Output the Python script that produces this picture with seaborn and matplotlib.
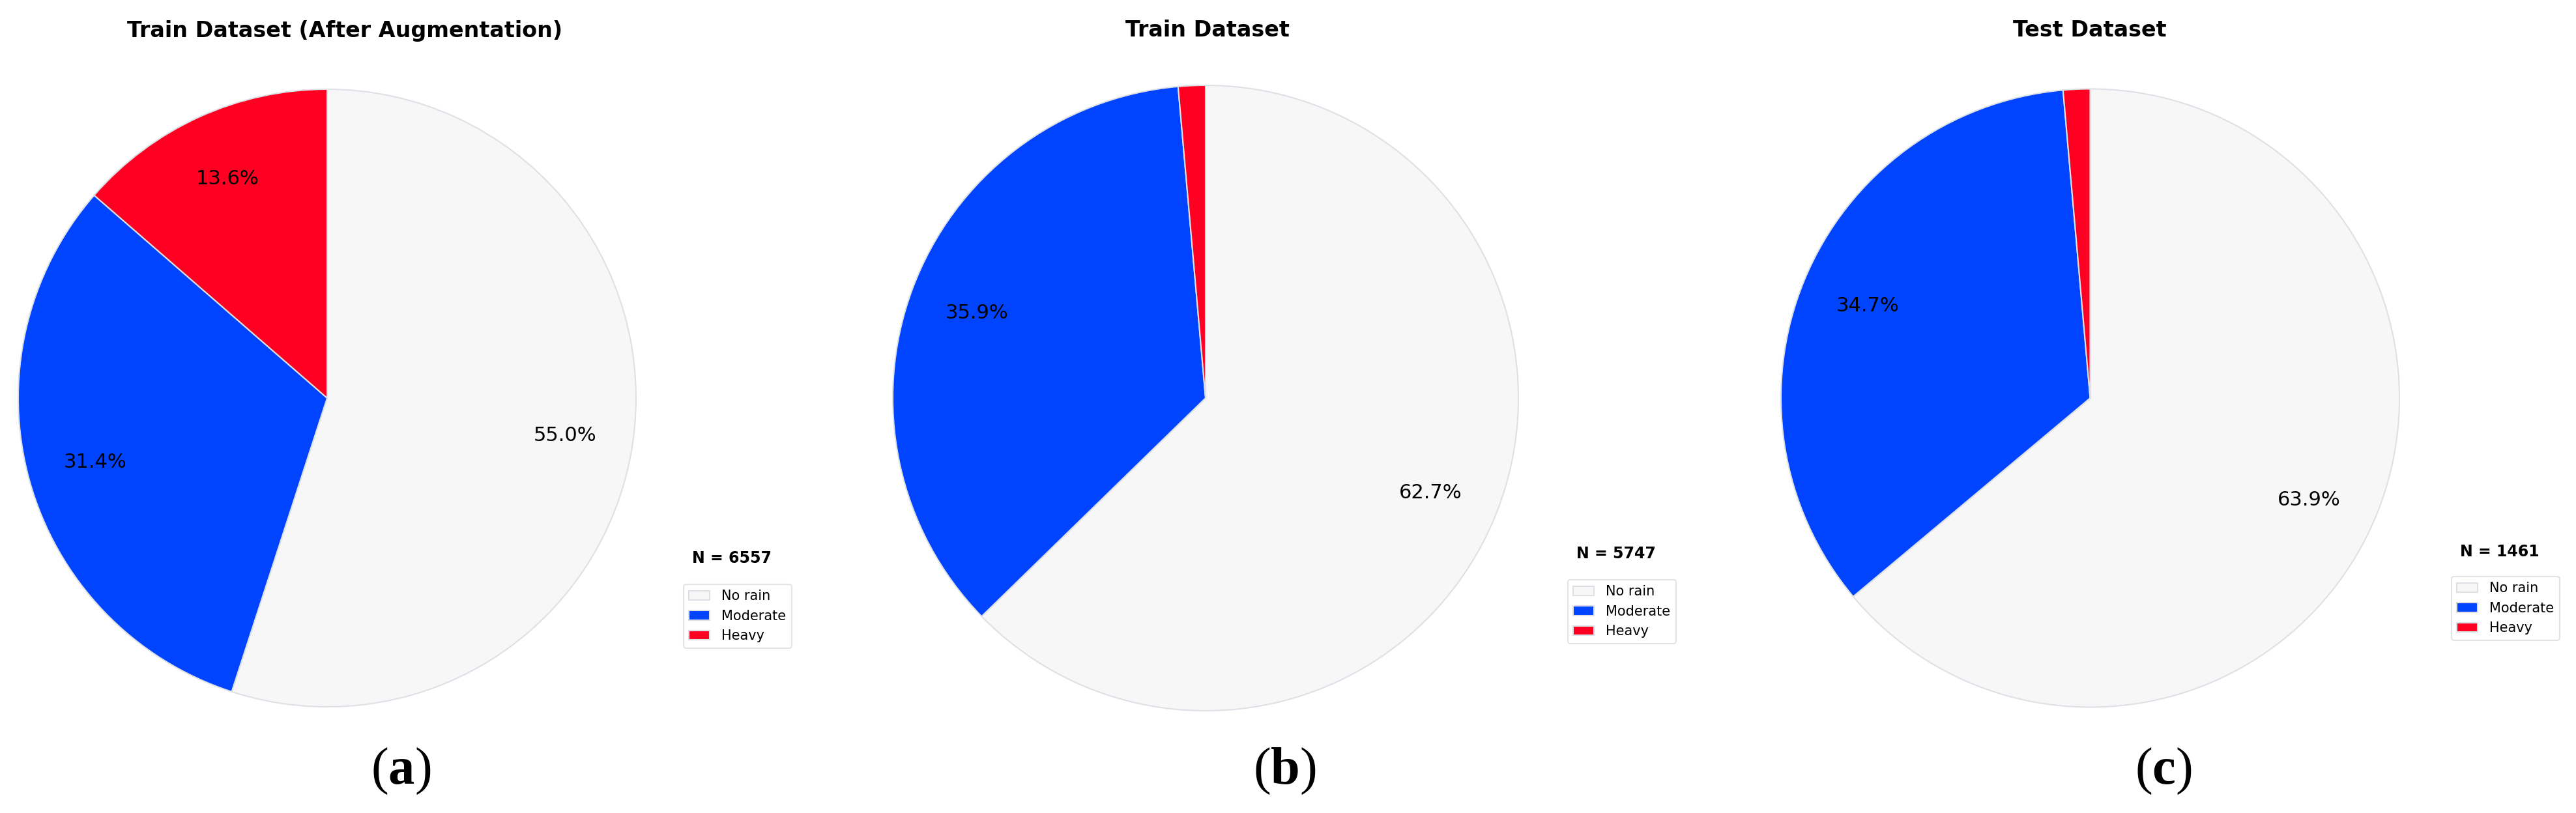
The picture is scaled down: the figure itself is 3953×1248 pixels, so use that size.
import matplotlib
matplotlib.use("Agg")
import matplotlib.pyplot as plt
import seaborn as sns

# ---- data ----
categories = ["No rain", "Moderate", "Heavy"]
titles = ["Train Dataset (After Augmentation)", "Train Dataset", "Test Dataset"]
panel_letters = ["a", "b", "c"]
n_totals = [6557, 5747, 1461]
pct_aug = [55.0, 31.4, 13.6]
pct_train = [62.7, 35.9, 1.4]
pct_test = [63.9, 34.7, 1.4]
series = [pct_aug, pct_train, pct_test]
colors = ["#f7f7f7", "#0044ff", "#ff0022"]

sns.set_style("white")
plt.rcParams["font.family"] = ["DejaVu Sans"]
plt.rcParams["text.color"] = "black"
plt.rcParams["mathtext.fontset"] = "custom"
plt.rcParams["mathtext.rm"] = "Liberation Serif"
plt.rcParams["mathtext.bf"] = "Liberation Serif:bold"

W, H = 3953, 1248
fig = plt.figure(figsize=(W / 100, H / 100), dpi=100)
palette = sns.color_palette(colors)

# layout (pixels)
centers = [(502, 611), (1850, 611), (3207.5, 611)]
radii = [474, 480, 474.5]
title_x = [529, 1853, 3207]
legend_xy = [(1049, 897), (2406, 890), (3762, 885)]
nlabel_y = [857, 850, 847]
panel_x = [615, 1971, 3320]


def fmt(p):
    return f"{p:.1f}%" if p >= 3 else ""


for i, vals in enumerate(series):
    cx, cy = centers[i]
    r = radii[i]
    ax = fig.add_axes([(cx - r) / W, (H - cy - r) / H, 2 * r / W, 2 * r / H])
    wedges, texts, autotexts = ax.pie(
        vals, colors=palette, startangle=90, counterclock=False,
        autopct=fmt, pctdistance=0.78,
        wedgeprops=dict(edgecolor="#dde1e6", linewidth=1.5),
        textprops=dict(fontsize=22, color="black"),
    )
    ax.set_xlim(-1, 1)
    ax.set_ylim(-1, 1)
    ax.set_aspect("equal")
    ax.axis("off")

    fig.text(title_x[i] / W, 1 - 47 / H, titles[i], ha="center", va="center",
             fontsize=24, fontweight="bold", color="black")

    lx, ly = legend_xy[i]
    leg = ax.legend(wedges, categories, loc="upper left",
                    bbox_to_anchor=(lx / W, 1 - ly / H),
                    bbox_transform=fig.transFigure, borderaxespad=0,
                    fontsize=15, frameon=True, handlelength=1.5,
                    handletextpad=0.9, borderpad=0.4, labelspacing=0.5,
                    labelcolor="black")
    leg.get_frame().set_edgecolor("#dddddd")
    leg.get_frame().set_linewidth(1.5)
    fig.text((lx + 13) / W, 1 - nlabel_y[i] / H, f"N = {n_totals[i]}",
             ha="left", va="center", fontsize=17, fontweight="bold",
             color="black")

    fig.text(panel_x[i] / W, 1 - 1183 / H,
             r"$\mathrm{(}\mathbf{" + panel_letters[i] + r"}\mathrm{)}$",
             ha="center", va="center", fontsize=58, color="black")

fig.savefig("out.png", dpi=100, facecolor="white")
